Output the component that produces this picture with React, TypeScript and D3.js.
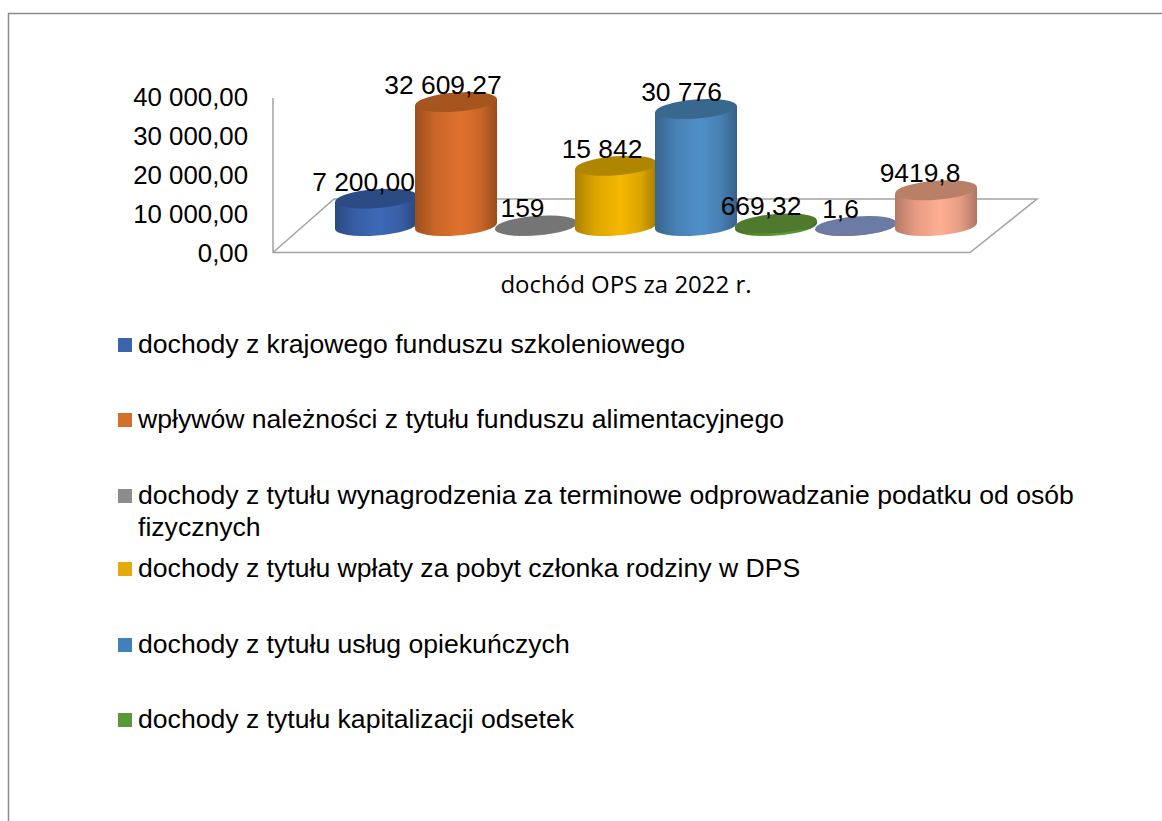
import React from "react";
import * as d3 from "d3";

const values = [7200, 32609.27, 159, 15842, 30776, 669.32, 1.6, 9419.8];
const dataLabels = ["7 200,00", "32 609,27", "159", "15 842", "30 776", "669,32", "1,6", "9419,8"];
const barColors = ["#3d69b8", "#e0712d", "#8f8f8f", "#f5b800", "#4f8fc8", "#5c9e35", "#7a8fc0", "#ffae92"];
const topColors = ["#2c4b84", "#a6551f", "#757575", "#b08500", "#39688f", "#4f7a2e", "#6b7ba3", "#b98068"];
const ticks = [0, 10000, 20000, 30000, 40000];
const tickLabels = ["0,00", "10 000,00", "20 000,00", "30 000,00", "40 000,00"];
const categoryLabel = "dochód OPS za 2022 r.";
const legendItems: string[][] = [
  ["dochody z krajowego funduszu szkoleniowego"],
  ["wpływów należności z tytułu funduszu alimentacyjnego"],
  ["dochody z tytułu wynagrodzenia za terminowe odprowadzanie podatku od osób", "fizycznych"],
  ["dochody z tytułu wpłaty za pobyt członka rodziny w DPS"],
  ["dochody z tytułu usług opiekuńczych"],
  ["dochody z tytułu kapitalizacji odsetek"],
];
const legendColors = ["#3b64ad", "#d2702c", "#8c8c8c", "#e3ab0a", "#4181bb", "#5b9638"];
const legendY = [345, 420, 496, 569, 645, 720];

const FONT = "'Liberation Sans', Arial, sans-serif";
const height = d3.scaleLinear().domain([0, 40000]).range([0, 152]);
const xBand = d3.scaleBand<number>().domain(d3.range(values.length)).range([336, 976]).padding(0);
const labelDx = d3.scaleLinear().domain([0, values.length - 1]).range([-12.5, -16]);
const tickY = d3.scaleLinear().domain([0, 40000]).range([253, 97]);
const BASE_Y = 226;
const RY = 9.5;
const TILT = -4.5;

function cylinderPath(cx: number, rx: number, h: number) {
  const dy = Math.tan((TILT * Math.PI) / 180) * rx;
  return (
    `M${cx - rx},${BASE_Y - h - dy}L${cx - rx},${BASE_Y - dy}` +
    `A${rx},${RY} ${TILT} 0 0 ${cx + rx},${BASE_Y + dy}` +
    `L${cx + rx},${BASE_Y - h + dy}Z`
  );
}

export default function App() {
  const rx = xBand.bandwidth() / 2 + 1;
  return (
    <svg width={1162} height={821} style={{ position: "absolute", left: 0, top: 0 }}>
      <defs>
        {barColors.map((c, i) => (
          <linearGradient key={i} id={`g${i}`} x1="0" x2="1" y1="0" y2="0">
            <stop offset="0" stopColor={d3.color(c)!.darker(1).formatHex()} />
            <stop offset="0.25" stopColor={d3.color(c)!.darker(0.3).formatHex()} />
            <stop offset="0.55" stopColor={c} />
            <stop offset="0.8" stopColor={d3.color(c)!.darker(0.3).formatHex()} />
            <stop offset="1" stopColor={d3.color(c)!.darker(1.1).formatHex()} />
          </linearGradient>
        ))}
      </defs>
      <path d="M8.5,821V13.5H1162" fill="none" stroke="#8c8c8c" strokeWidth={1.5} />
      <path d="M273,98V252.5H970L1037,199H334L273,252.5" fill="none" stroke="#a3a3a3" strokeWidth={1.5} />
      {tickLabels.map((t, i) => (
        <text key={t} x={248} y={tickY(ticks[i]) + 9} textAnchor="end" fontFamily={FONT} fontSize={25.8} fill="#000">
          {t}
        </text>
      ))}
      {values.map((v, i) => {
        const cx = xBand(i)! + xBand.bandwidth() / 2;
        const h = height(v);
        return (
          <g key={i}>
            <path d={cylinderPath(cx, rx, h)} fill={`url(#g${i})`} />
            <ellipse
              cx={cx}
              cy={BASE_Y - h}
              rx={rx}
              ry={RY}
              fill={topColors[i]}
              transform={`rotate(${TILT} ${cx} ${BASE_Y - h})`}
            />
          </g>
        );
      })}
      {values.map((v, i) => {
        const cx = xBand(i)! + xBand.bandwidth() / 2;
        return (
          <text
            key={i}
            x={cx + labelDx(i)}
            y={BASE_Y - height(v) - 8}
            textAnchor="middle"
            fontFamily={FONT}
            fontSize={26.4}
            fill="#000"
          >
            {dataLabels[i]}
          </text>
        );
      })}
      <text x={626} y={293} textAnchor="middle" fontFamily="'Open Sans', sans-serif" fontSize={24} fill="#000">
        {categoryLabel}
      </text>
      {legendItems.map((lines, i) => (
        <g key={i}>
          <rect x={118} y={legendY[i] - 7} width={14} height={14} fill={legendColors[i]} />
          {lines.map((l, j) => (
            <text key={j} x={138} y={legendY[i] + 8 + j * 32} fontFamily={FONT} fontSize={26.6} fill="#000">
              {l}
            </text>
          ))}
        </g>
      ))}
    </svg>
  );
}
